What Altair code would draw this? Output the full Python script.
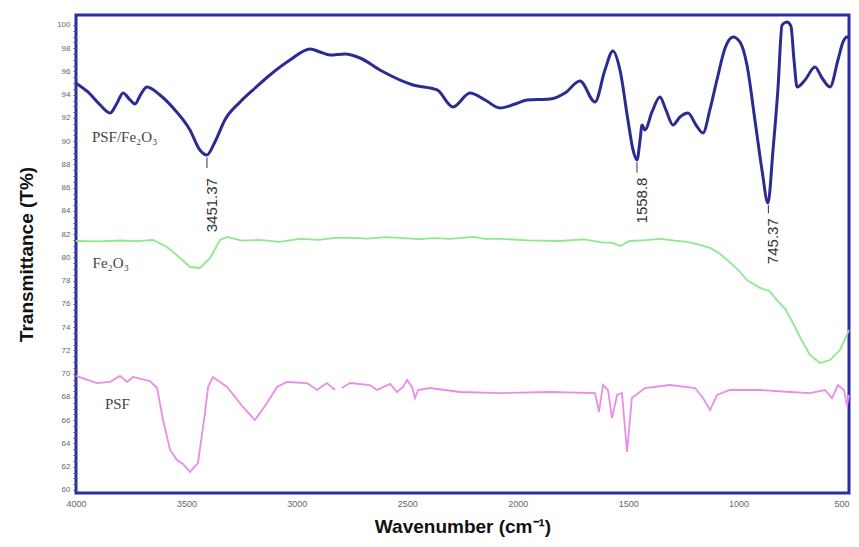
import altair as alt
import pandas as pd

# PSF/Fe2O3 composite (dark blue)
comp_wn = [4000, 3946, 3891, 3846, 3814, 3787, 3755, 3733, 3706, 3679, 3620, 3552, 3484, 3439,
           3407, 3371, 3326, 3257, 3189, 3122, 3031, 2940, 2895, 2850, 2782, 2714, 2624, 2474,
           2365, 2293, 2216, 2148, 2080, 2012, 1958, 1854, 1786, 1718, 1650, 1605, 1569, 1537,
           1501, 1478, 1460, 1446, 1437, 1424, 1392, 1356, 1329, 1297, 1265, 1229, 1193, 1161,
           1130, 1098, 1061, 1025, 994, 962, 926, 894, 867, 844, 822, 803, 781, 763, 749, 735,
           699, 654, 622, 586, 550, 527, 509, 500]
comp_t = [95.0, 94.24, 93.12, 92.43, 93.29, 94.15, 93.55, 93.20, 94.06, 94.67, 93.98, 92.69, 90.97, 89.25,
          88.82, 89.94, 91.83, 93.38, 94.58, 95.70, 96.99, 97.94, 97.68, 97.42, 97.51, 97.16, 96.13, 94.84,
          94.41, 92.95, 94.15, 93.55, 92.86, 93.20, 93.55, 93.63, 94.15, 95.18, 93.38, 96.13, 97.76, 96.13,
          91.83, 89.25, 88.39, 90.11, 91.40, 90.97, 92.52, 93.81, 92.69, 91.40, 92.09, 92.43, 91.40, 90.71,
          92.69, 95.27, 98.02, 98.97, 98.54, 96.56, 91.83, 87.53, 84.69, 89.25, 94.41, 100.0, 100.26, 99.91, 96.99, 94.67,
          95.27, 96.39, 95.44, 94.67, 96.99, 98.54, 98.97, 98.88]

# Fe2O3 (light green)
fe_wn = [4000, 3900, 3800, 3720, 3651, 3588, 3529, 3484, 3439, 3393, 3348, 3316, 3250, 3167,
         3080, 2986, 2900, 2820, 2759, 2680, 2600, 2533, 2450, 2380, 2307, 2200, 2150, 2080,
         1950, 1809, 1700, 1620, 1569, 1537, 1492, 1420, 1356, 1290, 1233, 1180, 1130, 1090,
         1052, 1000, 962, 903, 860, 826, 790, 754, 722, 677, 631, 586, 541, 500]
fe_t = [81.42, 81.38, 81.46, 81.40, 81.51, 80.90, 79.96, 79.18, 79.10, 79.96, 81.51, 81.77, 81.45, 81.51,
        81.35, 81.60, 81.52, 81.70, 81.68, 81.62, 81.75, 81.68, 81.58, 81.66, 81.60, 81.78, 81.60, 81.60,
        81.48, 81.42, 81.55, 81.30, 81.25, 80.99, 81.42, 81.50, 81.60, 81.45, 81.34, 81.10, 80.82, 80.40,
        79.79, 78.90, 78.06, 77.38, 77.10, 76.34, 75.60, 74.37, 73.16, 71.61, 70.92, 71.18, 72.04, 73.76]

# PSF (pink)
psf_wn = [4000, 3905, 3846, 3801, 3769, 3742, 3665, 3633, 3606, 3574, 3543, 3516, 3484, 3448,
          3416, 3402, 3380, 3316, 3244, 3190, 3135, 3090, 3045, 2954, 2909, 2864, 2827,
          2796, 2759, 2669, 2637, 2578, 2547, 2519, 2501, 2479, 2465, 2451, 2397, 2261, 2080,
          1854, 1650, 1632, 1614, 1591, 1573, 1550, 1528, 1505, 1483, 1424, 1311, 1197, 1161,
          1129, 1098, 1039, 903, 767, 677, 609, 577, 550, 523, 509, 500]
psf_t = [69.81, 69.20, 69.29, 69.81, 69.29, 69.72, 69.37, 68.77, 66.02, 63.44, 62.58, 62.24, 61.55, 62.32,
         66.62, 68.86, 69.72, 68.86, 67.14, 66.02, 67.48, 68.86, 69.29, 69.20, 68.60, 69.20, 68.60,
         68.77, 69.20, 69.03, 68.60, 69.12, 68.43, 68.86, 69.46, 68.86, 67.91, 68.60, 68.77, 68.43, 68.34,
         68.43, 68.34, 66.71, 69.03, 68.60, 66.19, 68.17, 68.34, 63.27, 67.91, 68.77, 69.03, 68.77, 67.91,
         66.88, 68.17, 68.60, 68.60, 68.43, 68.34, 68.60, 67.91, 69.03, 68.60, 67.29, 68.17]

# peak annotations
peak_labels = ["3451.37", "1558.8", "745.37"]
peak_wn = [3407, 1460, 865]
peak_t_top = [88.6, 88.2, 84.5]
peak_t_bot = [87.7, 87.3, 83.8]
label_wn = [3384, 1437, 843]
label_t = [84.5, 84.9, 81.4]

# series names
series_names = ["PSF/Fe₂O₃", "Fe₂O₃", "PSF"]
series_wn = [3928, 3925, 3869]
series_t = [90.4, 79.5, 67.4]

y_ticks = [60 + 0.5 * i for i in range(81)]
x_ticks = [4000, 3500, 3000, 2500, 2000, 1500, 1000, 500]

df_comp = pd.DataFrame({"wn": comp_wn, "t": comp_t})
df_fe = pd.DataFrame({"wn": fe_wn, "t": fe_t})
df_psf = pd.DataFrame({"wn": psf_wn, "t": psf_t,
                       "seg": [0 if w > 2810 else 1 for w in psf_wn]})
df_peak = pd.DataFrame({"label": peak_labels, "wn": peak_wn, "t1": peak_t_top, "t2": peak_t_bot,
                        "lwn": label_wn, "lt": label_t})
df_names = pd.DataFrame({"name": series_names, "wn": series_wn, "t": series_t})

xs = alt.Scale(domain=[500, 4000], reverse=True, nice=False, zero=False)
ys = alt.Scale(domain=[59.74, 100.86], nice=False, zero=False)

x_axis = alt.Axis(values=x_ticks, title="Wavenumber (cm⁻¹)", grid=False, domain=False,
                  ticks=False, format="d", labelFontSize=9, labelColor="#666666",
                  labelFont="Liberation Sans",
                  labelAlign={"expr": "datum.value == 500 ? 'right' : 'center'"},
                  labelPadding=6, labelFlush=False, labelOverlap=False,
                  titleFont="Liberation Sans", titleFontSize=19, titleFontWeight="bold",
                  titleColor="#111111", titlePadding=9)
y_axis = alt.Axis(values=y_ticks, title="Transmittance (T%)", grid=False, domain=False,
                  ticks=True, tickSize=3, tickColor="#555555", tickWidth=1,
                  labelExpr="datum.value % 2 == 0 ? format(datum.value, 'd') : ''",
                  labelFontSize=8, labelColor="#666666", labelFont="Liberation Sans",
                  labelPadding=3, labelOverlap=False, labelFlush=False,
                  titleFont="Liberation Sans", titleFontSize=19, titleFontWeight="bold",
                  titleColor="#111111", titlePadding=20)


def X(field):
    return alt.X(field, type="quantitative", scale=xs, axis=x_axis, title="Wavenumber (cm⁻¹)")


def Y(field):
    return alt.Y(field, type="quantitative", scale=ys, axis=y_axis, title="Transmittance (T%)")


line_comp = alt.Chart(df_comp).mark_line(color="#2b2b92", strokeWidth=3, interpolate="monotone").encode(
    x=X("wn"), y=Y("t"),
)

line_fe = alt.Chart(df_fe).mark_line(color="#8ee88e", strokeWidth=1.8).encode(
    x=X("wn"), y=Y("t"),
)

line_psf = alt.Chart(df_psf).mark_line(color="#ea8cea", strokeWidth=1.8).encode(
    x=X("wn"), y=Y("t"), detail="seg:N",
)

leaders = alt.Chart(df_peak).mark_rule(color="#333333", strokeWidth=1).encode(
    x=X("wn"), y=Y("t1"), y2="t2:Q",
)

peak_text = alt.Chart(df_peak).mark_text(angle=270, fontSize=15, font="Liberation Sans",
                                         color="#333333", align="center", baseline="middle").encode(
    x=X("lwn"), y=Y("lt"), text="label:N",
)

name_text = alt.Chart(df_names).mark_text(fontSize=15, font="Liberation Serif", color="#444444",
                                          align="left", baseline="middle").encode(
    x=X("wn"), y=Y("t"), text="name:N",
)

chart = alt.layer(line_comp, line_fe, line_psf, leaders, peak_text, name_text).properties(
    width=773, height=478,
    autosize=alt.AutoSizeParams(type="none"),
    padding={"left": 68, "top": 7, "right": 2, "bottom": 50},
    background="white",
).configure_view(stroke="#2d2da6", strokeWidth=3)

chart.save("out.html", embed_options={"renderer": "svg", "actions": False})
